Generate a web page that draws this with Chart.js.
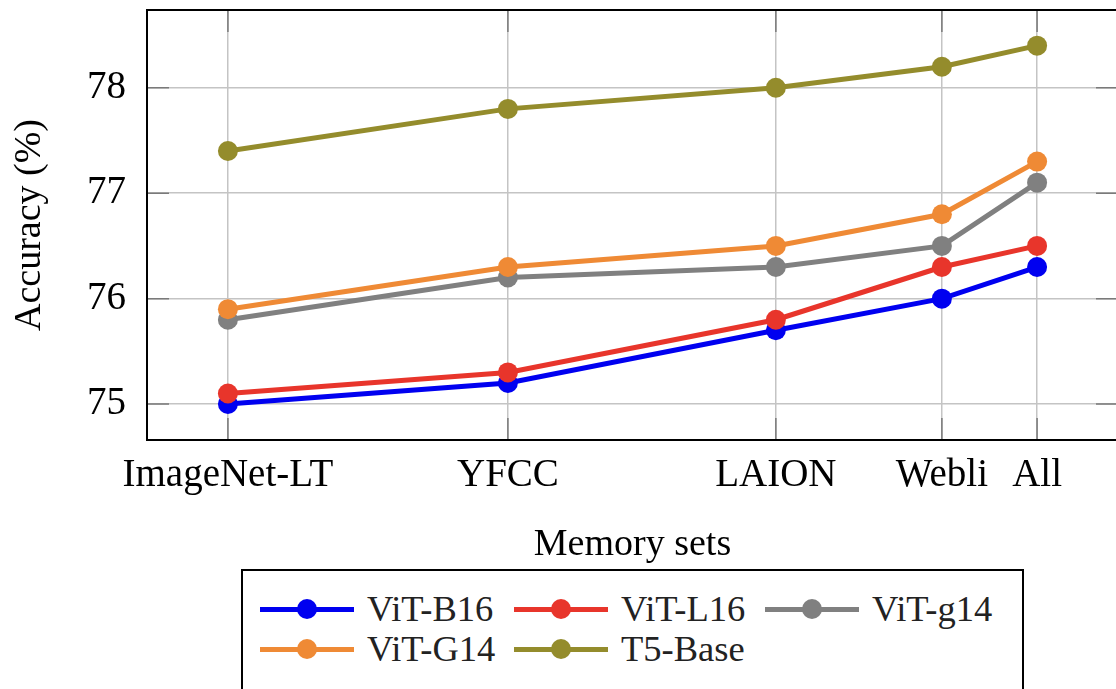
<!DOCTYPE html>
<html>
<head>
<meta charset="utf-8">
<script src="https://cdn.jsdelivr.net/npm/chart.js@4"></script>
<style>
  html, body { margin: 0; padding: 0; background: #fff; overflow: hidden; }
  #wrap { position: relative; width: 1130px; height: 689px; }
  #chart { display: block; width: 1130px; height: 689px; }
  #legend {
    position: absolute; left: 241px; top: 569px; width: 783px; height: 140px;
    border: 2px solid #000; box-sizing: border-box; background: #fff;
    font-family: "Liberation Serif", "DejaVu Serif", serif; font-size: 36.5px; color: #222;
  }
  .item { position: absolute; height: 40px; line-height: 40px; white-space: nowrap; }
  .item .sw { position: absolute; left: 0; top: 18px; width: 94px; height: 5px; }
  .item .dot { position: absolute; left: 37px; top: 10px; width: 20px; height: 20px; border-radius: 50%; }
  .item .tx { position: absolute; left: 107px; top: 0; }
  #dbg { position: absolute; left: 1040px; top: 600px; font: 12px sans-serif; color: #fff; }
</style>
</head>
<body>
<div id="wrap">
  <canvas id="chart" width="1130" height="689"></canvas>
  <div id="legend"></div>
</div>
<script>
// memory sets and where they sit on the x axis
const memorySets = ['ImageNet-LT', 'YFCC', 'LAION', 'Webli', 'All'];
const memoryPos = [0, 1, 1.957, 2.55, 2.89];
const yTicks = [75, 76, 77, 78];

const vitB16 = [75.0, 75.2, 75.7, 76.0, 76.3];
const vitL16 = [75.1, 75.3, 75.8, 76.3, 76.5];
const vitg14 = [75.8, 76.2, 76.3, 76.5, 77.1];
const vitG14 = [75.9, 76.3, 76.5, 76.8, 77.3];
const t5Base = [77.4, 77.8, 78.0, 78.2, 78.4];

const seriesNames = ['ViT-B16', 'ViT-L16', 'ViT-g14', 'ViT-G14', 'T5-Base'];
const seriesData = [vitB16, vitL16, vitg14, vitG14, t5Base];
const seriesColors = ['#0000f0', '#e8352b', '#808080', '#ef8a35', '#948c2c'];

const serif = '"Liberation Serif", "DejaVu Serif", serif';

const datasets = seriesData.map((vals, i) => ({
    label: seriesNames[i],
    data: vals.map((v, j) => ({ x: memoryPos[j], y: v })),
    borderColor: seriesColors[i],
    backgroundColor: seriesColors[i],
    borderWidth: 5,
    pointRadius: 10,
    pointHoverRadius: 10,
    pointBorderWidth: 0,
    order: seriesData.length - i   // later series drawn on top
}));

// frame + inner tick marks like pgfplots
const framePlugin = {
    id: 'frame',
    beforeDatasetsDraw(chart) {
        const { ctx, chartArea: a, scales } = chart;
        ctx.save();
        ctx.strokeStyle = '#7a7a7a';
        ctx.lineWidth = 1.5;
        const L = 22;
        memoryPos.forEach(p => {
            const x = scales.x.getPixelForValue(p);
            ctx.beginPath();
            ctx.moveTo(x, a.bottom); ctx.lineTo(x, a.bottom - L);
            ctx.moveTo(x, a.top); ctx.lineTo(x, a.top + L);
            ctx.stroke();
        });
        yTicks.forEach(v => {
            const y = scales.y.getPixelForValue(v);
            ctx.beginPath();
            ctx.moveTo(a.left, y); ctx.lineTo(a.left + L, y);
            ctx.moveTo(a.right, y); ctx.lineTo(a.right - L, y);
            ctx.stroke();
        });
        ctx.strokeStyle = '#000';
        ctx.lineWidth = 2;
        ctx.strokeRect(a.left, a.top, a.right - a.left, a.bottom - a.top);
        ctx.restore();
    }
};

const chart = new Chart(document.getElementById('chart'), {
    type: 'line',
    data: { datasets: datasets },
    options: {
        responsive: false,
        animation: false,
        layout: { padding: { top: 9, right: 12, bottom: 121, left: 0 } },
        plugins: { legend: { display: false }, tooltip: { enabled: false } },
        scales: {
            x: {
                type: 'linear',
                min: -0.289,
                max: 3.179,
                afterBuildTicks: s => { s.ticks = memoryPos.map(v => ({ value: v })); },
                afterFit: s => { s.height = 128; s.paddingLeft = 0; s.paddingRight = 0; },
                grid: { color: '#c4c4c4', lineWidth: 1.5, drawTicks: false },
                border: { display: false },
                ticks: {
                    autoSkip: false, maxRotation: 0, padding: 12,
                    color: '#000',
                    font: { family: serif, size: 39 },
                    callback: v => memorySets[memoryPos.indexOf(v)]
                },
                title: {
                    display: true, text: 'Memory sets', color: '#000',
                    font: { family: serif, size: 38 }, padding: { top: 0, bottom: 0 }
                }
            },
            y: {
                min: 74.659,
                max: 78.738,
                afterBuildTicks: s => { s.ticks = yTicks.map(v => ({ value: v })); },
                afterFit: s => { s.width = 147; s.paddingTop = 0; s.paddingBottom = 0; },
                grid: { color: '#c4c4c4', lineWidth: 1.5, drawTicks: false },
                border: { display: false },
                ticks: {
                    padding: 21, color: '#000',
                    font: { family: serif, size: 39 }
                },
                title: {
                    display: true, text: 'Accuracy (%)', color: '#000',
                    font: { family: serif, size: 38 }, padding: { top: 7, bottom: 0 }
                }
            }
        }
    },
    plugins: [framePlugin]
});

// boxed legend, laid out in columns like the original
const legendEl = document.getElementById('legend');
const cols = [17, 271, 522];
const rows = [18, 58];
seriesNames.forEach((name, i) => {
    const it = document.createElement('div');
    it.className = 'item';
    it.style.left = cols[i % 3] + 'px';
    it.style.top = rows[Math.floor(i / 3)] + 'px';
    it.innerHTML = '<span class="sw" style="background:' + seriesColors[i] + '"></span>' +
        '<span class="dot" style="background:' + seriesColors[i] + '"></span>' +
        '<span class="tx">' + name + '</span>';
    legendEl.appendChild(it);
});
</script>
</body>
</html>
